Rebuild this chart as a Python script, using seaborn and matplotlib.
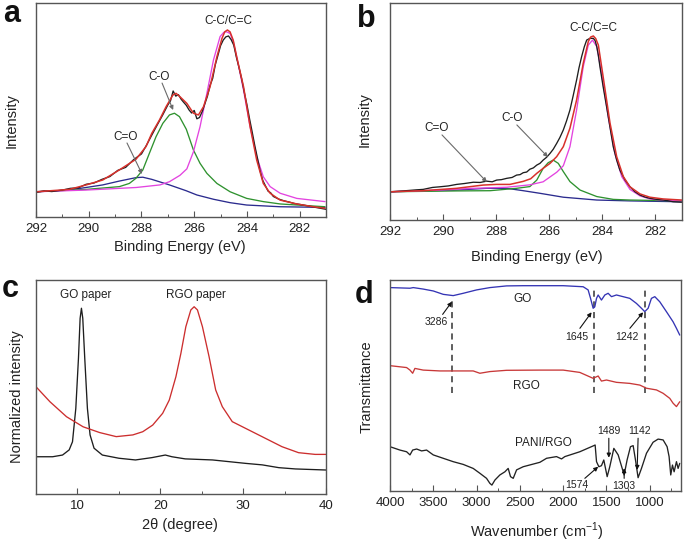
"""
XPS / XRD / FTIR four-panel figure (a-d)
"""
import matplotlib
matplotlib.use('Agg')
import matplotlib.pyplot as plt
import matplotlib.ticker as mticker
import seaborn as sns

sns.set_theme(style="ticks")
plt.rcParams['font.family'] = ['Liberation Sans', 'DejaVu Sans']
plt.rcParams['mathtext.fontset'] = 'custom'
plt.rcParams['mathtext.rm'] = 'Liberation Sans'

# ── panel a: C1s of GO ─────────────────────────────────
a_raw_e = [292.0, 291.7, 291.4, 291.0, 290.7, 290.4, 290.1, 289.8, 289.5, 289.2, 288.9, 288.6,
           288.3, 288.0, 287.8, 287.6, 287.4, 287.2, 287.0, 286.9, 286.8, 286.7, 286.6, 286.5,
           286.4, 286.3, 286.2, 286.1, 286.0, 285.9, 285.8, 285.7, 285.6, 285.5, 285.4, 285.3,
           285.2, 285.1, 285.0, 284.9, 284.8, 284.7, 284.6, 284.5, 284.4, 284.3, 284.2, 284.1,
           284.0, 283.9, 283.8, 283.7, 283.6, 283.5, 283.4, 283.3, 283.2, 283.1, 283.0, 282.8,
           282.6, 282.4, 282.2, 282.0, 281.7, 281.4, 281.0]
a_raw_i = [11.5, 12.2, 11.9, 12.6, 13.4, 13.6, 15.3, 15.9, 17.6, 18.9, 21.8, 23.2,
           26.8, 29.5, 33.8, 38.5, 43.1, 47.6, 52.4, 54.3, 58.9, 56.5, 57.2, 55.1,
           53.6, 52.2, 50.1, 48.6, 49.8, 45.9, 46.5, 49.2, 52.8, 56.4, 61.5, 64.8,
           71.2, 75.6, 80.1, 82.7, 84.2, 84.6, 82.9, 80.3, 74.6, 69.8, 64.5, 58.2,
           52.4, 45.8, 39.6, 33.2, 27.4, 21.5, 17.1, 14.6, 12.1, 11.3, 9.6, 8.4,
           7.6, 7.0, 6.3, 5.9, 5.2, 4.5, 3.6]
a_fit_e = [292.0, 290.74, 290.10, 289.47, 288.84, 288.21, 287.83, 287.61, 287.32, 287.07, 286.81,
           286.69, 286.54, 286.28, 286.03, 285.84, 285.65, 285.40, 285.14, 284.95, 284.84, 284.74,
           284.64, 284.52, 284.39, 284.13, 283.88, 283.63, 283.38, 283.12, 282.74, 282.11, 281.48, 281.04]
a_fit_i = [11.8, 12.9, 15.0, 17.3, 22.0, 27.0, 32.9, 39.1, 45.3, 51.5, 57.0,
           57.8, 56.2, 53.1, 48.5, 47.7, 51.5, 60.9, 74.9, 83.4, 86.6, 87.4,
           86.5, 82.6, 74.9, 60.9, 42.2, 26.6, 15.7, 11.1, 7.9, 6.1, 4.8, 4.1]
a_cc_e = [292.0, 290.1, 288.2, 287.3, 286.94, 286.54, 286.28, 286.03, 285.78, 285.52, 285.27,
          285.02, 284.88, 284.79, 284.64, 284.52, 284.39, 284.13, 283.88, 283.63, 283.38, 283.12,
          282.74, 282.11, 281.04]
a_cc_i = [11.8, 12.6, 13.8, 15.0, 16.5, 19.5, 22.5, 30.5, 42.2, 57.8, 73.4,
          84.3, 86.3, 86.6, 85.8, 82.0, 74.9, 59.3, 42.2, 28.2, 18.8, 14.2,
          11.1, 8.7, 7.2]
a_co_e = [292.0, 290.1, 288.84, 288.46, 288.21, 287.95, 287.70, 287.45, 287.19, 286.94, 286.75,
          286.56, 286.30, 286.03, 285.78, 285.52, 285.14, 284.64, 284.01, 283.38, 282.74, 281.04]
a_co_i = [11.8, 12.9, 14.2, 15.7, 18.1, 22.0, 29.8, 37.5, 43.8, 47.7, 48.5,
          46.9, 41.0, 31.3, 25.1, 20.4, 15.7, 11.8, 8.7, 7.2, 6.1, 4.8]
a_cdo_e = [292.0, 290.74, 289.47, 288.84, 288.21, 287.95, 287.61, 286.94, 286.31, 285.90,
           285.27, 284.64, 284.01, 282.74, 281.04]
a_cdo_i = [11.8, 12.6, 15.0, 16.8, 18.4, 18.6, 17.6, 15.0, 12.3, 10.3,
           8.3, 6.7, 5.6, 4.8, 4.5]

# ── panel b: C1s of RGO ────────────────────────────────
b_raw_e = [292.0, 291.5, 291.0, 290.75, 290.4, 290.12, 289.8, 289.49, 289.2, 288.86, 288.6, 288.36,
           288.15, 287.98, 287.8, 287.60, 287.4, 287.23, 287.1, 286.98, 286.85, 286.73, 286.6, 286.47,
           286.35, 286.23, 286.1, 285.97, 285.85, 285.72, 285.6, 285.47, 285.35, 285.22, 285.1, 284.97,
           284.88, 284.78, 284.68, 284.59, 284.47, 284.34, 284.27, 284.21, 284.15, 284.09, 283.97,
           283.84, 283.71, 283.59, 283.46, 283.34, 283.15, 282.96, 282.77, 282.58, 282.4, 282.21,
           281.96, 281.71, 281.5, 281.33, 281.01]
b_raw_i = [13.0, 13.4, 13.9, 14.1, 15.0, 15.3, 15.7, 16.4, 16.8, 17.4, 17.3, 17.9,
           17.6, 18.4, 18.6, 19.2, 19.6, 20.7, 20.9, 21.8, 22.1, 23.4, 24.0, 25.3,
           26.1, 27.6, 28.9, 30.7, 32.6, 35.3, 38.0, 41.5, 45.6, 50.7, 57.2, 64.5,
           70.1, 75.3, 79.8, 82.9, 83.7, 83.7, 82.6, 79.9, 75.8, 70.6, 61.4,
           52.2, 42.6, 33.8, 27.6, 23.0, 18.5, 15.3, 13.0, 11.5, 10.6, 10.0,
           9.5, 9.2, 8.8, 8.4, 8.2]
b_fit_e = [292.0, 290.75, 289.49, 288.49, 287.98, 287.48, 286.98, 286.70, 286.47, 286.23, 285.97,
           285.72, 285.47, 285.22, 284.97, 284.72, 284.53, 284.44, 284.34, 284.25, 284.15, 283.97,
           283.71, 283.46, 283.21, 282.96, 282.58, 282.21, 281.71, 281.01]
b_fit_i = [13.0, 13.5, 14.6, 16.1, 16.4, 16.4, 17.8, 19.0, 21.5, 23.8, 26.1,
           29.2, 33.8, 42.3, 55.3, 72.2, 82.2, 84.3, 84.8, 83.6, 80.6, 66.0,
           44.6, 29.2, 20.0, 15.3, 12.0, 10.5, 9.7, 9.2]
b_cc_e = [292.0, 290.12, 288.86, 287.60, 286.73, 286.23, 285.72, 285.47, 285.22, 284.97, 284.72,
          284.53, 284.37, 284.21, 284.03, 283.78, 283.53, 283.27, 282.96, 282.58, 282.21, 281.71, 281.01]
b_cc_i = [13.0, 13.8, 14.6, 15.1, 16.2, 17.6, 22.0, 25.0, 33.8, 50.7, 70.6,
          80.6, 82.9, 79.9, 67.6, 47.6, 30.7, 20.0, 14.1, 11.1, 9.7, 9.1, 8.8]
b_co_e = [292.0, 289.49, 288.23, 287.23, 286.73, 286.47, 286.23, 286.04, 285.85, 285.66, 285.47,
          285.22, 284.84, 284.21, 283.59, 282.96, 281.01]
b_co_i = [13.0, 13.4, 13.5, 14.6, 15.4, 18.4, 23.8, 26.4, 27.6, 26.1, 22.3,
          17.7, 13.8, 10.8, 9.5, 9.2, 8.8]
b_cdo_e = [292.0, 289.49, 288.36, 287.60, 286.98, 286.35, 285.47, 284.21, 282.96, 281.01]
b_cdo_i = [13.0, 13.8, 14.6, 14.6, 13.5, 12.3, 10.5, 9.2, 8.8, 8.4]

# ── panel c: XRD ───────────────────────────────────────
c_go_t = [5.0, 7.0, 8.2, 9.0, 9.4, 9.8, 10.12, 10.32, 10.48, 10.64, 10.88, 11.2, 11.52, 12.0,
          13.0, 15.0, 17.0, 19.0, 20.6, 21.4, 23.0, 26.3, 30.3, 32.3, 34.3, 36.3, 40.0]
c_go_i = [17.4, 17.4, 18.2, 20.6, 24.4, 40.0, 63.4, 82.1, 86.8, 82.1, 63.4, 40.0, 27.6, 21.4,
          18.2, 16.7, 15.9, 17.0, 18.2, 17.4, 16.4, 15.9, 14.3, 13.6, 12.3, 11.7, 11.2]
c_rgo_t = [5.0, 6.68, 8.68, 10.68, 12.68, 14.68, 16.68, 17.88, 19.08, 20.28, 21.08, 21.88, 22.48,
           23.08, 23.68, 24.08, 24.48, 25.08, 25.88, 26.68, 27.48, 28.68, 30.68, 32.68, 34.68,
           36.68, 38.68, 40.0]
c_rgo_i = [50.1, 43.1, 36.1, 31.4, 28.7, 26.8, 27.6, 29.1, 32.2, 37.7, 43.9, 54.8, 65.7,
           78.2, 86.0, 87.5, 86.0, 78.2, 64.2, 48.6, 40.8, 33.8, 29.9, 26.0, 22.1,
           19.3, 18.5, 18.5]

# ── panel d: FTIR ──────────────────────────────────────
d_go_w = [4000, 3769, 3731, 3616, 3500, 3385, 3270, 3154, 3000, 2846, 2654, 2462, 2269, 2000,
          1769, 1712, 1684, 1654, 1635, 1615, 1596, 1558, 1519, 1481, 1442, 1385, 1308, 1231,
          1154, 1096, 1058, 1019, 981, 942, 885, 808, 731, 692, 654]
d_go_i = [96.4, 96.1, 96.4, 95.7, 94.8, 93.2, 92.6, 93.7, 95.3, 96.4, 97.2, 97.3, 97.3, 97.3,
          96.8, 95.3, 91.3, 86.6, 87.3, 91.3, 92.9, 90.5, 92.9, 93.7, 92.1, 92.9, 92.1, 91.3,
          88.9, 86.6, 85.0, 86.6, 91.3, 92.1, 89.7, 85.0, 80.2, 77.1, 73.9]
d_rgo_w = [4000, 3808, 3769, 3738, 3712, 3616, 3423, 3231, 3039, 2962, 2846, 2654, 2269, 2000,
           1808, 1654, 1596, 1558, 1500, 1385, 1231, 1115, 1038, 923, 846, 769, 731, 692, 654]
d_rgo_i = [59.4, 58.5, 57.3, 55.8, 58.1, 57.3, 56.9, 56.9, 56.9, 55.8, 56.6, 57.2, 57.3, 57.3,
           56.2, 53.4, 54.5, 52.1, 52.6, 51.5, 51.0, 50.2, 48.7, 47.9, 46.3, 43.9, 41.6, 40.0, 42.3]
d_pani_w = [4000, 3885, 3808, 3769, 3738, 3692, 3635, 3577, 3500, 3385, 3270, 3154, 3039, 2962,
            2885, 2846, 2823, 2788, 2731, 2673, 2635, 2608, 2577, 2538, 2462, 2269, 2192, 2077,
            2019, 1981, 1808, 1646, 1631, 1615, 1588, 1558, 1531, 1492, 1462, 1415, 1365, 1296,
            1262, 1223, 1192, 1162, 1135, 1096, 1038, 962, 904, 846, 800, 777, 758, 738, 719,
            692, 673, 654]
d_pani_i = [21.0, 19.4, 18.6, 17.1, 19.4, 19.9, 19.0, 19.4, 17.1, 15.5, 13.9, 12.6, 10.7, 8.4,
            6.0, 3.6, 2.8, 5.2, 7.6, 9.1, 10.7, 6.8, 6.0, 10.0, 11.5, 13.6, 15.5, 16.3,
            15.2, 16.3, 18.6, 21.5, 21.8, 13.9, 11.5, 12.0, 14.7, 6.8, 11.5, 20.2, 17.1, 7.6,
            14.7, 21.0, 21.5, 13.9, 6.3, 10.7, 17.9, 23.1, 24.6, 24.2, 21.0, 16.3, 7.6, 12.3, 9.1,
            13.9, 10.7, 13.1]
d_marks = [3286, 1645, 1058]
d_mark_top = [92.0, 96.0, 96.0]
d_mark_bot = [46.3, 46.3, 46.3]

BLACK = '#1e1e1e'
RED = '#d8312c'
GREEN = '#2f922f'
BLUE = '#2b2b8e'
MAGENTA = '#e344e0'
FRAME = '#555555'
GRAY = '#6a6a6a'


def curve(ax, x, y, color, lw=0.95):
    sns.lineplot(x=x, y=y, ax=ax, color=color, lw=lw, sort=False, estimator=None)


def style_axes(ax, xlim, major, minor):
    ax.set_xlim(*xlim)
    ax.set_ylim(0, 100)
    ax.set_yticks([])
    ax.xaxis.set_major_locator(mticker.MultipleLocator(major))
    ax.xaxis.set_minor_locator(mticker.MultipleLocator(minor))
    ax.tick_params(axis='x', which='major', direction='in', length=4, width=0.8,
                   color=FRAME, pad=4, labelsize=9.5, labelcolor='#222222')
    ax.tick_params(axis='x', which='minor', direction='in', length=2.5, width=0.7, color=FRAME)
    for sp in ax.spines.values():
        sp.set_visible(True)
        sp.set_color(FRAME)
        sp.set_linewidth(1.0)
    ax.set_xlabel('')
    ax.set_ylabel('')


def labels(ax, xlabel, ylabel, xpos, ypos):
    ax.set_xlabel(xlabel, fontsize=10.5, color='#222222')
    ax.set_ylabel(ylabel, fontsize=10.5, color='#222222')
    ax.xaxis.set_label_coords(*xpos)
    ax.yaxis.set_label_coords(*ypos)
    for lab in (ax.xaxis.label, ax.yaxis.label):
        lab.set_va('center')
        lab.set_ha('center')


def note(ax, text, xy_text, xy_tip=None, start=None, size=8.5, color=GRAY):
    ax.text(*xy_text, text, ha='center', va='center', fontsize=size, color='#222222')
    if xy_tip is not None:
        ax.annotate('', xy=xy_tip, xytext=start,
                    arrowprops=dict(arrowstyle='-|>', color=color, lw=0.8,
                                    mutation_scale=6, shrinkA=0, shrinkB=0))


fig = plt.figure(figsize=(6.85, 5.42), dpi=100)
fig.patch.set_facecolor('white')

ax_a = fig.add_axes([0.0526, 0.5996, 0.4234, 0.3948])
ax_b = fig.add_axes([0.5693, 0.5941, 0.4263, 0.4004])
ax_c = fig.add_axes([0.0526, 0.0886, 0.4234, 0.3948])
ax_d = fig.add_axes([0.5693, 0.0941, 0.4248, 0.3893])

# ── a ──
curve(ax_a, a_cdo_e, a_cdo_i, BLUE)
curve(ax_a, a_co_e, a_co_i, GREEN)
curve(ax_a, a_cc_e, a_cc_i, MAGENTA)
curve(ax_a, a_raw_e, a_raw_i, BLACK)
curve(ax_a, a_fit_e, a_fit_i, RED, lw=1.1)
style_axes(ax_a, (292, 281), 2, 1)
labels(ax_a, 'Binding Energy (eV)', 'Intensity', (0.497, -0.140), (-0.083, 0.453))
note(ax_a, 'C-C/C=C', (284.72, 91.6))
note(ax_a, 'C-O', (287.33, 65.4), (286.80, 50.0), (287.22, 62.6))
note(ax_a, 'C=O', (288.62, 37.4), (287.98, 20.1), (288.55, 34.6))

# ── b ──
curve(ax_b, b_cdo_e, b_cdo_i, BLUE)
curve(ax_b, b_co_e, b_co_i, GREEN)
curve(ax_b, b_cc_e, b_cc_i, MAGENTA)
curve(ax_b, b_raw_e, b_raw_i, BLACK)
curve(ax_b, b_fit_e, b_fit_i, RED, lw=1.1)
style_axes(ax_b, (292, 281), 2, 1)
labels(ax_b, 'Binding Energy (eV)', 'Intensity', (0.503, -0.170), (-0.086, 0.461))
note(ax_b, 'C-C/C=C', (284.35, 88.5))
note(ax_b, 'C-O', (287.40, 47.0), (286.05, 29.0), (287.22, 43.8))
note(ax_b, 'C=O', (290.23, 42.4), (288.35, 17.5), (290.04, 39.2))

# ── c ──
curve(ax_c, c_go_t, c_go_i, BLACK)
curve(ax_c, c_rgo_t, c_rgo_i, '#cc2e2e')
style_axes(ax_c, (5, 40), 10, 5)
labels(ax_c, '2θ (degree)', 'Normalized intensity', (0.497, -0.145), (-0.066, 0.453))
note(ax_c, 'GO paper', (11.0, 93.0))
note(ax_c, 'RGO paper', (24.3, 93.0))

# ── d ──
ax_d.vlines(d_marks, d_mark_bot, d_mark_top, colors='#333333', linestyles=(0, (4, 3)), lw=1.1)
curve(ax_d, d_go_w, d_go_i, '#3434b4')
curve(ax_d, d_rgo_w, d_rgo_i, '#c83838')
curve(ax_d, d_pani_w, d_pani_i, '#222222')
style_axes(ax_d, (4000, 640), 500, 250)
labels(ax_d, 'Wavenumber (cm$^{-1}$)', 'Transmittance', (0.505, -0.193), (-0.079, 0.493))
note(ax_d, 'GO', (2465, 91.0))
note(ax_d, 'RGO', (2430, 49.8))
note(ax_d, 'PANI/RGO', (2223, 22.7))
pk = dict(size=7.5, color='#111111')
note(ax_d, '3286', (3461, 80.2), (3285, 89.7), (3392, 83.7), **pk)
note(ax_d, '1645', (1845, 73.1), (1672, 84.7), (1807, 77.1), **pk)
note(ax_d, '1242', (1268, 73.1), (1077, 84.7), (1230, 77.1), **pk)
note(ax_d, '1489', (1469, 28.4), (1473, 15.8), (1473, 25.0), **pk)
note(ax_d, '1142', (1115, 28.4), (1146, 10.0), (1135, 25.0), **pk)
note(ax_d, '1574', (1845, 2.8), (1596, 11.5), (1750, 6.0), **pk)
note(ax_d, '1303', (1296, 2.5), (1296, 10.8), (1296, 6.0), **pk)

# ── panel letters ──
for ch, px, py in [('a', 3, 22), ('b', 357, 27), ('c', 2, 297), ('d', 355, 303)]:
    fig.text(px / 685, 1 - py / 542, ch, fontsize=22, fontweight='bold',
             ha='left', va='baseline', color='#111111')

fig.savefig('out.png', dpi=100)
plt.close(fig)
